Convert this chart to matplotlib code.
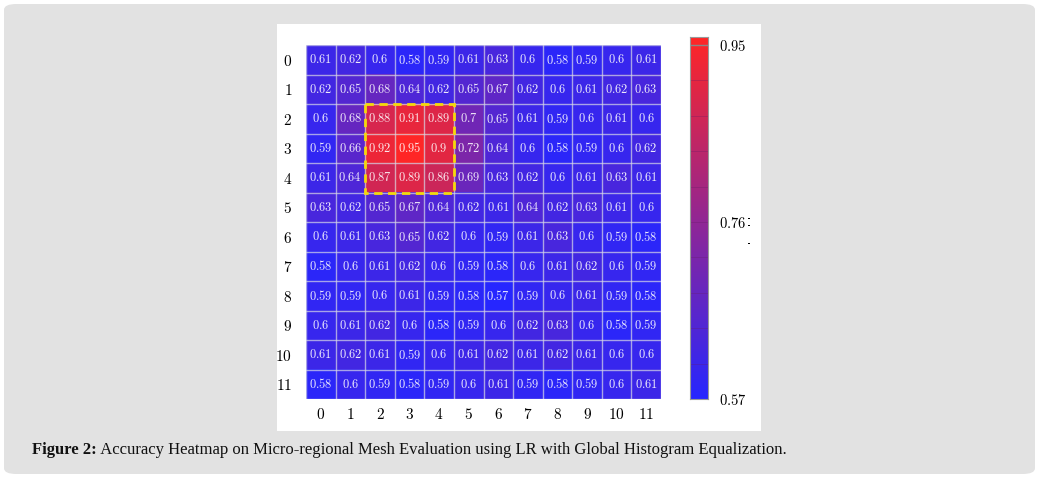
import numpy as np
import matplotlib
matplotlib.use("Agg")
import matplotlib.pyplot as plt
from matplotlib.colors import LinearSegmentedColormap, Normalize
from matplotlib.patches import FancyBboxPatch, Rectangle

plt.rcParams['mathtext.fontset'] = 'cm'

rows = list(range(12))
cols = list(range(12))
values = np.array([
    [0.61, 0.62, 0.60, 0.58, 0.59, 0.61, 0.63, 0.60, 0.58, 0.59, 0.60, 0.61],
    [0.62, 0.65, 0.68, 0.64, 0.62, 0.65, 0.67, 0.62, 0.60, 0.61, 0.62, 0.63],
    [0.60, 0.68, 0.88, 0.91, 0.89, 0.70, 0.65, 0.61, 0.59, 0.60, 0.61, 0.60],
    [0.59, 0.66, 0.92, 0.95, 0.90, 0.72, 0.64, 0.60, 0.58, 0.59, 0.60, 0.62],
    [0.61, 0.64, 0.87, 0.89, 0.86, 0.69, 0.63, 0.62, 0.60, 0.61, 0.63, 0.61],
    [0.63, 0.62, 0.65, 0.67, 0.64, 0.62, 0.61, 0.64, 0.62, 0.63, 0.61, 0.60],
    [0.60, 0.61, 0.63, 0.65, 0.62, 0.60, 0.59, 0.61, 0.63, 0.60, 0.59, 0.58],
    [0.58, 0.60, 0.61, 0.62, 0.60, 0.59, 0.58, 0.60, 0.61, 0.62, 0.60, 0.59],
    [0.59, 0.59, 0.60, 0.61, 0.59, 0.58, 0.57, 0.59, 0.60, 0.61, 0.59, 0.58],
    [0.60, 0.61, 0.62, 0.60, 0.58, 0.59, 0.60, 0.62, 0.63, 0.60, 0.58, 0.59],
    [0.61, 0.62, 0.61, 0.59, 0.60, 0.61, 0.62, 0.61, 0.62, 0.61, 0.60, 0.60],
    [0.58, 0.60, 0.59, 0.58, 0.59, 0.60, 0.61, 0.59, 0.58, 0.59, 0.60, 0.61],
])
highlight_rows = (2, 4)
highlight_cols = (2, 4)
cbar_ticks = [0.57, 0.76, 0.95]
vmin, vmax = 0.57, 0.95
caption_bold = "Figure 2:"
caption_rest = " Accuracy Heatmap on Micro-regional Mesh Evaluation using LR with Global Histogram Equalization."

cmap = LinearSegmentedColormap.from_list("br", [(0.15, 0.15, 1.0), (1.0, 0.15, 0.15)])
norm = Normalize(vmin=vmin, vmax=vmax)

W, H = 1039, 479
fig = plt.figure(figsize=(W / 100, H / 100), dpi=100)
fig.patch.set_facecolor('white')

def fx(x):
    return x / W

def fy(y):
    return 1 - y / H

# gray rounded background
bg = FancyBboxPatch((fx(4), fy(474)), fx(1035) - fx(4), fy(4) - fy(474),
                    boxstyle="round,pad=0,rounding_size=0.012",
                    transform=fig.transFigure, facecolor='#e2e2e2', edgecolor='none', zorder=-3)
fig.patches.append(bg)
# white panel
panel = Rectangle((fx(277), fy(431)), fx(761) - fx(277), fy(24) - fy(431),
                  transform=fig.transFigure, facecolor='white', edgecolor='none', zorder=-2)
fig.patches.append(panel)

ax = fig.add_axes([fx(306), fy(399), fx(661) - fx(306), fy(45) - fy(399)])
ax.imshow(values, cmap=cmap, norm=norm, aspect='auto', interpolation='nearest')
ax.set_xlim(-0.5, len(cols) - 0.5)
ax.set_ylim(len(rows) - 0.5, -0.5)
for k in range(len(cols) + 1):
    ax.axvline(k - 0.5, color=(0.85, 0.85, 0.9), lw=1.0, alpha=0.7)
for k in range(len(rows) + 1):
    ax.axhline(k - 0.5, color=(0.85, 0.85, 0.9), lw=1.0, alpha=0.7)
for i in range(len(rows)):
    for j in range(len(cols)):
        v = values[i, j]
        s = ('%.2f' % v).rstrip('0').rstrip('.')
        ax.text(j, i, '$' + s + '$', ha='center', va='center', color='white',
                alpha=0.9, fontsize=9)
r0, r1 = highlight_rows
c0, c1 = highlight_cols
ax.add_patch(Rectangle((c0 - 0.5, r0 - 0.5), c1 - c0 + 1, r1 - r0 + 1, fill=False,
                       edgecolor='#f5d90a', lw=2.0, linestyle=(0, (3, 2)), zorder=5))
ax.set_xticks(range(len(cols)))
ax.set_yticks(range(len(rows)))
ax.set_xticklabels([r'$\mathbf{%d}$' % c for c in cols], fontsize=11)
ax.set_yticklabels([r'$\mathbf{%d}$' % r for r in rows], fontsize=11)
ax.tick_params(axis='x', length=0, pad=6)
ax.tick_params(axis='y', length=0, pad=10)
for sp in ax.spines.values():
    sp.set_visible(False)

# colorbar
cax = fig.add_axes([fx(690), fy(399), fx(708) - fx(690), fy(37) - fy(399)])
top_val = vmin + (vmax - vmin) * (399 - 37) / (399 - 45)
grad = np.linspace(vmin, top_val, 256).reshape(-1, 1)
cax.imshow(grad, cmap=cmap, norm=Normalize(vmin, top_val * 0.995 + vmax * 0.005), aspect='auto',
           origin='lower', extent=[0, 1, vmin, top_val])
cax.set_xlim(0, 1)
cax.set_ylim(vmin, top_val)
for lv in np.linspace(vmin, vmax, 11)[1:]:
    cax.axhline(lv, color=(0.4, 0.1, 0.4), lw=0.6, alpha=0.35)
cax.axhline(vmax, color='#888888', lw=1.0)
cax.set_xticks([])
cax.yaxis.tick_right()
cax.set_yticks(cbar_ticks)
cax.set_yticklabels(['$%.2f$' % t for t in cbar_ticks], fontsize=10.5)
cax.tick_params(length=0, pad=8)
for sp in cax.spines.values():
    sp.set_color('#999999')
    sp.set_linewidth(0.8)

# tiny artifacts near the middle label
for yy in (218, 225, 243):
    fig.patches.append(Rectangle((fx(748), fy(yy + 1)), 1.5 / W, 1.5 / H, transform=fig.transFigure,
                                 facecolor='black', edgecolor='none', zorder=3))

# caption
t1 = fig.text(fx(32), fy(450), caption_bold, fontsize=12, fontweight='bold',
              family='Liberation Serif', va='center', ha='left', color='#111111')
fig.canvas.draw()
bb = t1.get_window_extent()
fig.text(bb.x1 / W, fy(450), caption_rest, fontsize=12, family='Liberation Serif',
         va='center', ha='left', color='#111111')

fig.savefig('out.png', dpi=100)
